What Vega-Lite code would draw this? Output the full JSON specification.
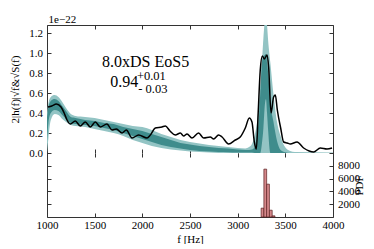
{
  "$schema": "https://vega.github.io/schema/vega-lite/v6.json",
  "padding": {"left": 9, "top": 13, "right": 0, "bottom": 0},
  "width": 286,
  "height": 192,
  "config": {
    "font": "Liberation Serif",
    "view": {"stroke": "#333333", "strokeWidth": 1},
    "axis": {
      "grid": false,
      "domain": false,
      "labelFont": "Liberation Serif",
      "titleFont": "Liberation Serif",
      "labelFontSize": 11,
      "titleFontSize": 11,
      "titleFontWeight": "normal",
      "labelColor": "#000000",
      "titleColor": "#000000",
      "tickColor": "#333333",
      "tickSize": -4,
      "tickWidth": 1,
      "labelPadding": 8.5,
      "labelFlush": false,
      "minExtent": 0
    }
  },
  "datasets": {
    "band": [
      {"f": 1000, "lo90": 0.0, "hi90": 0.40, "lo50": 0.12, "hi50": 0.36},
      {"f": 1015, "lo90": 0.15, "hi90": 0.50, "lo50": 0.30, "hi50": 0.46},
      {"f": 1040, "lo90": 0.33, "hi90": 0.56, "lo50": 0.40, "hi50": 0.52},
      {"f": 1080, "lo90": 0.39, "hi90": 0.58, "lo50": 0.43, "hi50": 0.54},
      {"f": 1120, "lo90": 0.38, "hi90": 0.56, "lo50": 0.42, "hi50": 0.52},
      {"f": 1160, "lo90": 0.34, "hi90": 0.51, "lo50": 0.38, "hi50": 0.47},
      {"f": 1200, "lo90": 0.31, "hi90": 0.45, "lo50": 0.34, "hi50": 0.42},
      {"f": 1250, "lo90": 0.28, "hi90": 0.39, "lo50": 0.30, "hi50": 0.36},
      {"f": 1300, "lo90": 0.27, "hi90": 0.37, "lo50": 0.29, "hi50": 0.35},
      {"f": 1400, "lo90": 0.26, "hi90": 0.36, "lo50": 0.28, "hi50": 0.33},
      {"f": 1500, "lo90": 0.24, "hi90": 0.35, "lo50": 0.27, "hi50": 0.32},
      {"f": 1600, "lo90": 0.22, "hi90": 0.33, "lo50": 0.25, "hi50": 0.30},
      {"f": 1700, "lo90": 0.20, "hi90": 0.31, "lo50": 0.23, "hi50": 0.29},
      {"f": 1800, "lo90": 0.17, "hi90": 0.29, "lo50": 0.20, "hi50": 0.26},
      {"f": 1900, "lo90": 0.13, "hi90": 0.27, "lo50": 0.17, "hi50": 0.24},
      {"f": 2000, "lo90": 0.10, "hi90": 0.26, "lo50": 0.14, "hi50": 0.22},
      {"f": 2100, "lo90": 0.07, "hi90": 0.23, "lo50": 0.11, "hi50": 0.19},
      {"f": 2200, "lo90": 0.05, "hi90": 0.19, "lo50": 0.08, "hi50": 0.16},
      {"f": 2300, "lo90": 0.035, "hi90": 0.16, "lo50": 0.06, "hi50": 0.13},
      {"f": 2400, "lo90": 0.025, "hi90": 0.13, "lo50": 0.045, "hi50": 0.10},
      {"f": 2500, "lo90": 0.015, "hi90": 0.11, "lo50": 0.03, "hi50": 0.085},
      {"f": 2600, "lo90": 0.01, "hi90": 0.095, "lo50": 0.02, "hi50": 0.07},
      {"f": 2700, "lo90": 0.005, "hi90": 0.08, "lo50": 0.015, "hi50": 0.06},
      {"f": 2800, "lo90": 0.0, "hi90": 0.07, "lo50": 0.01, "hi50": 0.05},
      {"f": 2900, "lo90": 0.0, "hi90": 0.06, "lo50": 0.008, "hi50": 0.045},
      {"f": 3000, "lo90": 0.0, "hi90": 0.05, "lo50": 0.005, "hi50": 0.035},
      {"f": 3080, "lo90": 0.0, "hi90": 0.045, "lo50": 0.005, "hi50": 0.03},
      {"f": 3120, "lo90": 0.0, "hi90": 0.06, "lo50": 0.005, "hi50": 0.03},
      {"f": 3150, "lo90": 0.0, "hi90": 0.09, "lo50": 0.005, "hi50": 0.035},
      {"f": 3180, "lo90": 0.0, "hi90": 0.18, "lo50": 0.0, "hi50": 0.06},
      {"f": 3205, "lo90": 0.0, "hi90": 0.32, "lo50": 0.0, "hi50": 0.20},
      {"f": 3220, "lo90": 0.0, "hi90": 0.47, "lo50": 0.0, "hi50": 0.31},
      {"f": 3237, "lo90": 0.0, "hi90": 0.65, "lo50": 0.0, "hi50": 0.60},
      {"f": 3255, "lo90": 0.0, "hi90": 0.92, "lo50": 0.10, "hi50": 0.91},
      {"f": 3270, "lo90": 0.0, "hi90": 1.15, "lo50": 0.25, "hi50": 0.96},
      {"f": 3285, "lo90": 0.0, "hi90": 1.32, "lo50": 0.48, "hi50": 0.98},
      {"f": 3297, "lo90": 0.0, "hi90": 1.35, "lo50": 0.54, "hi50": 0.99},
      {"f": 3308, "lo90": 0.0, "hi90": 1.28, "lo50": 0.40, "hi50": 0.90},
      {"f": 3320, "lo90": 0.0, "hi90": 1.12, "lo50": 0.22, "hi50": 0.80},
      {"f": 3343, "lo90": 0.0, "hi90": 0.90, "lo50": 0.0, "hi50": 0.50},
      {"f": 3374, "lo90": 0.0, "hi90": 0.60, "lo50": 0.0, "hi50": 0.32},
      {"f": 3413, "lo90": 0.0, "hi90": 0.31, "lo50": 0.0, "hi50": 0.12},
      {"f": 3450, "lo90": 0.0, "hi90": 0.17, "lo50": 0.0, "hi50": 0.03},
      {"f": 3490, "lo90": 0.0, "hi90": 0.07, "lo50": 0.0, "hi50": 0.01},
      {"f": 3550, "lo90": 0.0, "hi90": 0.02, "lo50": 0.0, "hi50": 0.0},
      {"f": 3600, "lo90": 0.0, "hi90": 0.01, "lo50": 0.0, "hi50": 0.0},
      {"f": 4000, "lo90": 0.0, "hi90": 0.005, "lo50": 0.0, "hi50": 0.0}
    ],
    "spectrum": [
      {"f": 1010, "v": 0.46}, {"f": 1050, "v": 0.47}, {"f": 1098, "v": 0.49}, {"f": 1147, "v": 0.46},
      {"f": 1180, "v": 0.40}, {"f": 1210, "v": 0.33}, {"f": 1244, "v": 0.29}, {"f": 1297, "v": 0.32},
      {"f": 1349, "v": 0.27}, {"f": 1402, "v": 0.31}, {"f": 1454, "v": 0.26}, {"f": 1507, "v": 0.31},
      {"f": 1559, "v": 0.26}, {"f": 1629, "v": 0.29}, {"f": 1682, "v": 0.23}, {"f": 1727, "v": 0.24},
      {"f": 1787, "v": 0.20}, {"f": 1832, "v": 0.23}, {"f": 1892, "v": 0.15}, {"f": 1961, "v": 0.18},
      {"f": 2049, "v": 0.15}, {"f": 2084, "v": 0.18}, {"f": 2136, "v": 0.25}, {"f": 2206, "v": 0.26},
      {"f": 2241, "v": 0.27}, {"f": 2290, "v": 0.22}, {"f": 2346, "v": 0.18}, {"f": 2399, "v": 0.20},
      {"f": 2433, "v": 0.17}, {"f": 2469, "v": 0.19}, {"f": 2521, "v": 0.15}, {"f": 2590, "v": 0.20},
      {"f": 2643, "v": 0.15}, {"f": 2713, "v": 0.16}, {"f": 2748, "v": 0.14}, {"f": 2800, "v": 0.18},
      {"f": 2836, "v": 0.16}, {"f": 2905, "v": 0.09}, {"f": 2975, "v": 0.13}, {"f": 3027, "v": 0.16},
      {"f": 3080, "v": 0.25}, {"f": 3122, "v": 0.35}, {"f": 3150, "v": 0.31}, {"f": 3175, "v": 0.11},
      {"f": 3196, "v": 0.04}, {"f": 3215, "v": 0.40}, {"f": 3237, "v": 0.83}, {"f": 3259, "v": 0.97},
      {"f": 3280, "v": 0.94}, {"f": 3308, "v": 0.98}, {"f": 3325, "v": 0.86}, {"f": 3350, "v": 0.40},
      {"f": 3377, "v": 0.56}, {"f": 3395, "v": 0.58}, {"f": 3416, "v": 0.43}, {"f": 3451, "v": 0.25},
      {"f": 3482, "v": 0.11}, {"f": 3520, "v": 0.10}, {"f": 3552, "v": 0.09}, {"f": 3623, "v": 0.11},
      {"f": 3692, "v": 0.05}, {"f": 3750, "v": 0.02}, {"f": 3797, "v": 0.01}, {"f": 3867, "v": 0.05},
      {"f": 3937, "v": 0.04}, {"f": 3990, "v": 0.05}
    ],
    "notes": [
      {"role": "title", "label": "8.0xDS EoS5", "f": 1577, "v": 0.86},
      {"role": "main", "label": "0.94", "f": 1664, "v": 0.66},
      {"role": "sup", "label": "+0.01", "f": 1943, "v": 0.73},
      {"role": "sub", "label": "- 0.03", "f": 1958, "v": 0.605},
      {"role": "exp", "label": "1e−22", "f": 1017, "v": 1.305}
    ],
    "hist": [
      {"b0": 3246, "b1": 3275, "pdf": 1380},
      {"b0": 3275, "b1": 3304, "pdf": 7480},
      {"b0": 3304, "b1": 3333, "pdf": 5130},
      {"b0": 3333, "b1": 3362, "pdf": 1060},
      {"b0": 3362, "b1": 3391, "pdf": 180}
    ]
  },
  "resolve": {"scale": {"y": "independent"}, "axis": {"y": "independent", "x": "independent"}},
  "layer": [
    {
      "layer": [
        {
          "data": {"name": "band"},
          "mark": {"type": "area", "color": "#93c4c4", "clip": true, "interpolate": "monotone"},
          "encoding": {
            "x": {"field": "f", "type": "quantitative", "scale": {"domain": [1000, 4000], "nice": false},
                  "axis": {"orient": "bottom", "offset": -64, "labels": false, "title": null, "values": [1000, 1500, 2000, 2500, 3000, 3500, 4000]}},
            "y": {"field": "hi90", "type": "quantitative", "scale": {"domain": [0, 1.28], "nice": false, "range": [128, 0]},
                  "axis": {"orient": "left", "values": [0, 0.2, 0.4, 0.6, 0.8, 1.0, 1.2], "format": ".1f",
                           "title": "2|h(f)|√f&√S(f)", "titlePadding": 8}},
            "y2": {"field": "lo90"}
          }
        },
        {
          "data": {"name": "band"},
          "mark": {"type": "area", "color": "#3f8c8c", "clip": true, "interpolate": "monotone"},
          "encoding": {
            "x": {"field": "f", "type": "quantitative",
                  "axis": {"orient": "top", "labels": false, "title": null, "values": [1000, 1500, 2000, 2500, 3000, 3500, 4000]}},
            "y": {"field": "hi50", "type": "quantitative",
                  "axis": {"orient": "right", "labels": false, "title": null, "values": [0, 0.2, 0.4, 0.6, 0.8, 1.0, 1.2]}},
            "y2": {"field": "lo50"}
          }
        },
        {
          "data": {"name": "spectrum"},
          "mark": {"type": "line", "color": "#000000", "strokeWidth": 1.5, "interpolate": "monotone", "clip": true},
          "encoding": {
            "x": {"field": "f", "type": "quantitative", "axis": null},
            "y": {"field": "v", "type": "quantitative", "axis": null}
          }
        },
        {
          "mark": {"type": "rule", "color": "#333333", "strokeWidth": 1},
          "encoding": {"y": {"datum": 0, "type": "quantitative", "axis": null}}
        },
        {
          "mark": {"type": "rule", "color": "#000000", "strokeWidth": 1.5, "strokeDash": [5, 4]},
          "encoding": {"y": {"datum": 0, "type": "quantitative", "axis": null}}
        },
        {
          "mark": {"type": "rule", "color": "#333333", "strokeWidth": 1.2, "strokeDash": [1.5, 1.5]},
          "encoding": {
            "x": {"datum": 3262, "type": "quantitative", "axis": null},
            "y": {"datum": 0, "type": "quantitative", "axis": null},
            "y2": {"datum": 1.28}
          }
        },
        {
          "data": {"name": "notes"},
          "transform": [{"filter": "datum.role === 'title' || datum.role === 'main'"}],
          "mark": {"type": "text", "align": "left", "baseline": "alphabetic", "fontSize": 16, "font": "Liberation Serif", "color": "#000000"},
          "encoding": {
            "x": {"field": "f", "type": "quantitative", "axis": null},
            "y": {"field": "v", "type": "quantitative", "axis": null},
            "text": {"field": "label"}
          }
        },
        {
          "data": {"name": "notes"},
          "transform": [{"filter": "datum.role === 'sup' || datum.role === 'sub'"}],
          "mark": {"type": "text", "align": "left", "baseline": "alphabetic", "fontSize": 12.5, "font": "Liberation Serif", "color": "#000000"},
          "encoding": {
            "x": {"field": "f", "type": "quantitative", "axis": null},
            "y": {"field": "v", "type": "quantitative", "axis": null},
            "text": {"field": "label"}
          }
        },
        {
          "data": {"name": "notes"},
          "transform": [{"filter": "datum.role === 'exp'"}],
          "mark": {"type": "text", "align": "left", "baseline": "alphabetic", "fontSize": 11, "font": "Liberation Serif", "color": "#000000"},
          "encoding": {
            "x": {"field": "f", "type": "quantitative", "axis": null},
            "y": {"field": "v", "type": "quantitative", "axis": null},
            "text": {"field": "label"}
          }
        }
      ]
    },
    {
      "layer": [
        {
          "data": {"name": "hist"},
          "mark": {"type": "bar", "color": "#d4878a", "stroke": "#5a1e1e", "strokeWidth": 0.7},
          "encoding": {
            "x": {"field": "b0", "type": "quantitative",
                  "axis": {"orient": "bottom", "values": [1000, 1500, 2000, 2500, 3000, 3500, 4000], "format": "d", "title": "f [Hz]", "titlePadding": 3, "labelPadding": 6}},
            "x2": {"field": "b1"},
            "y": {"field": "pdf", "type": "quantitative", "scale": {"domain": [0, 10000], "nice": false, "range": [192, 128]},
                  "axis": {"orient": "right", "values": [2000, 4000, 6000, 8000], "format": "d", "title": "PDF", "titleAngle": 270, "titlePadding": 5}},
            "y2": {"datum": 0}
          }
        },
        {
          "mark": {"type": "rule", "color": "#111111", "strokeWidth": 1},
          "encoding": {
            "x": {"datum": 3262, "type": "quantitative",
                  "axis": {"orient": "top", "offset": -128, "labels": false, "title": null, "values": [1000, 1500, 2000, 2500, 3000, 3500, 4000]}},
            "y": {"datum": 0, "type": "quantitative",
                  "axis": {"orient": "left", "labels": false, "title": null, "values": [2000, 4000, 6000, 8000]}},
            "y2": {"datum": 10000}
          }
        }
      ]
    }
  ]
}
